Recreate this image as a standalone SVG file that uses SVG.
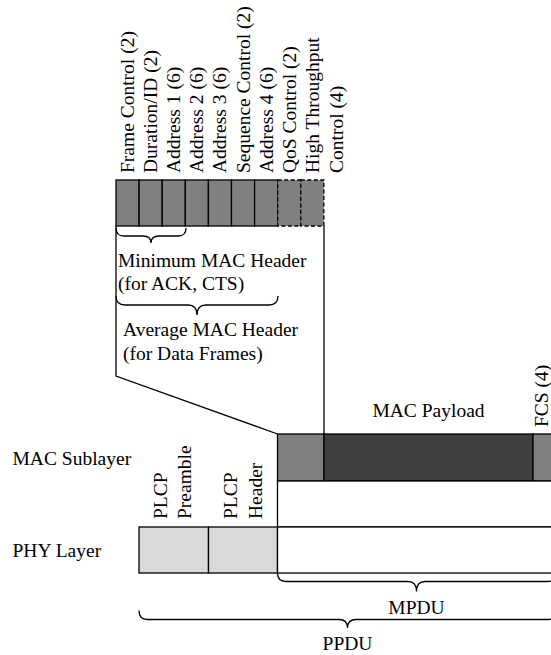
<svg xmlns="http://www.w3.org/2000/svg" width="551" height="655" viewBox="0 0 551 655">
<style>
text{font-family:"Liberation Serif","Times New Roman",serif;font-size:19.5px;fill:#000}
.b{stroke:#000;stroke-width:1.3;fill:none}
.mid{fill:#808080;stroke:#000;stroke-width:1.3}
.dark{fill:#404040;stroke:#000;stroke-width:1.3}
.light{fill:#d9d9d9;stroke:#000;stroke-width:1.3}
.white{fill:#fff;stroke:#000;stroke-width:1.3}
.dash{fill:#808080;stroke:#000;stroke-width:1.3;stroke-dasharray:4 2.5}
</style>
<rect width="551" height="655" fill="#fff"/>
<g id="header-fields">
<rect class="mid" x="116" y="180" width="23.1" height="46"/>
<rect class="mid" x="139.1" y="180" width="23.1" height="46"/>
<rect class="mid" x="162.2" y="180" width="23.1" height="46"/>
<rect class="mid" x="185.3" y="180" width="23.1" height="46"/>
<rect class="mid" x="208.4" y="180" width="23.1" height="46"/>
<rect class="mid" x="231.5" y="180" width="23.1" height="46"/>
<rect class="mid" x="254.6" y="180" width="23.1" height="46"/>
<rect class="dash" x="277.7" y="180" width="23.1" height="46"/>
<rect class="dash" x="300.8" y="180" width="23.1" height="46"/>
</g>
<g id="header-labels">
<text transform="translate(134,173) rotate(-90)">Frame Control (2)</text>
<text transform="translate(157.1,173) rotate(-90)">Duration/ID (2)</text>
<text transform="translate(180.2,173) rotate(-90)">Address 1 (6)</text>
<text transform="translate(203.3,173) rotate(-90)">Address 2 (6)</text>
<text transform="translate(226.4,173) rotate(-90)">Address 3 (6)</text>
<text transform="translate(249.5,173) rotate(-90)">Sequence Control (2)</text>
<text transform="translate(272.6,173) rotate(-90)">Address 4 (6)</text>
<text transform="translate(295.7,173) rotate(-90)">QoS Control (2)</text>
<text transform="translate(318.5,173) rotate(-90)"><tspan x="0" y="0">High Throughput</tspan><tspan x="0" dy="24">Control (4)</tspan></text>
</g>
<g id="connectors">
<path class="b" d="M116,226 V376 L277.5,434"/>
<path class="b" d="M324,226 V434"/>
</g>
<g id="min-brace">
<path class="b" d="M116,228 Q116,236 124,236 H143 Q151,236 151,243 Q151,236 159,236 H178 Q186,236 186,228"/>
<text x="118" y="267">Minimum MAC Header</text>
<text x="118" y="290">(for ACK, CTS)</text>
</g>
<g id="avg-brace">
<path class="b" d="M116,296 Q116,305 125,305 H188 Q197,305 197,315 Q197,305 206,305 H269 Q278,305 278,296"/>
<text x="123" y="336">Average MAC Header</text>
<text x="123" y="360">(for Data Frames)</text>
</g>
<g id="mac-sublayer">
<text x="12.5" y="465">MAC Sublayer</text>
<rect class="mid" x="277.5" y="434" width="46.5" height="47"/>
<rect class="dark" x="324" y="434" width="209" height="47"/>
<rect class="mid" x="533" y="434" width="23" height="47"/>
<rect class="white" x="277.5" y="481" width="278.5" height="46"/>
<text x="428.5" y="416.5" text-anchor="middle">MAC Payload</text>
<text transform="translate(548,427) rotate(-90)">FCS (4)</text>
</g>
<g id="phy-layer">
<text x="12.5" y="556.5">PHY Layer</text>
<rect class="light" x="139" y="527" width="69.5" height="46"/>
<rect class="light" x="208.5" y="527" width="69" height="46"/>
<rect class="white" x="277.5" y="527" width="278.5" height="46"/>
<text transform="translate(166.8,519) rotate(-90)"><tspan x="0" y="0">PLCP</tspan><tspan x="0" dy="24.5">Preamble</tspan></text>
<text transform="translate(237.3,519) rotate(-90)"><tspan x="0" y="0">PLCP</tspan><tspan x="0" dy="24.5">Header</tspan></text>
</g>
<g id="mpdu-brace">
<path class="b" d="M277.5,573 Q277.5,581.5 286,581.5 H408 Q416.5,581.5 416.5,591.5 Q416.5,581.5 425,581.5 H547.5 Q556,581.5 556,573"/>
<text x="416.5" y="614" text-anchor="middle">MPDU</text>
</g>
<g id="ppdu-brace">
<path class="b" d="M139,610.5 Q139,619.5 147.5,619.5 H339 Q347.5,619.5 347.5,628 Q347.5,619.5 356,619.5 H547.5 Q556,619.5 556,610.5"/>
<text x="347.5" y="650" text-anchor="middle">PPDU</text>
</g>
</svg>
